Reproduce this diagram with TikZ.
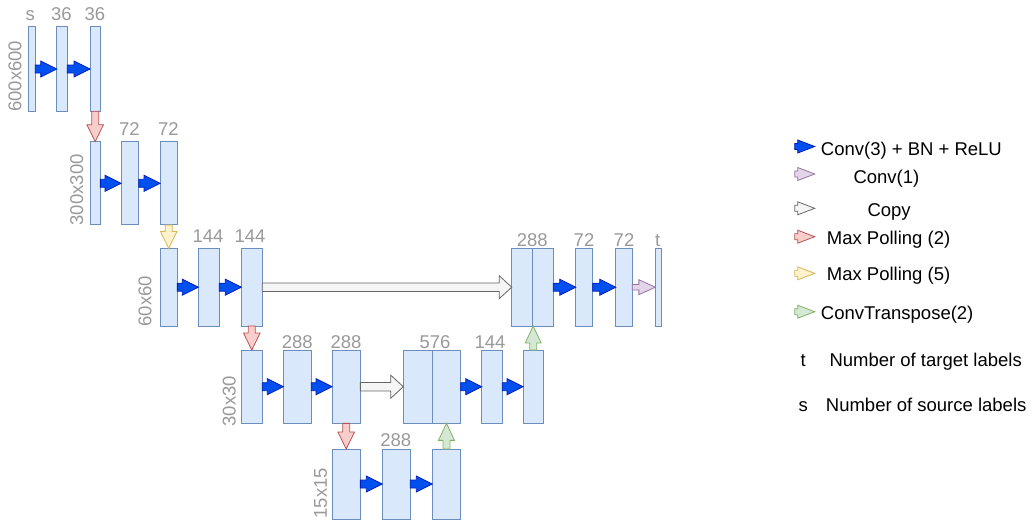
\documentclass[tikz,border=0pt]{standalone}
\usepackage{fontspec}
\setmainfont{Liberation Sans}
\usetikzlibrary{calc}
\definecolor{boxfill}{HTML}{DAE8FC}
\definecolor{boxdraw}{HTML}{6C8EBF}
\definecolor{bluefill}{HTML}{0050EF}
\definecolor{bluedraw}{HTML}{001DBC}
\definecolor{redfill}{HTML}{F8CECC}
\definecolor{reddraw}{HTML}{B85450}
\definecolor{yelfill}{HTML}{FFF2CC}
\definecolor{yeldraw}{HTML}{D6B656}
\definecolor{grnfill}{HTML}{D5E8D4}
\definecolor{grndraw}{HTML}{82B366}
\definecolor{purfill}{HTML}{E1D5E7}
\definecolor{purdraw}{HTML}{9673A6}
\definecolor{cpyfill}{HTML}{F5F5F5}
\definecolor{cpydraw}{HTML}{666666}
\definecolor{labgray}{HTML}{999999}
\newcommand\lblfont{\fontsize{18.5}{22}\selectfont}
\begin{document}
\begin{tikzpicture}[x=1pt,y=-1pt,
  layer/.style={draw=boxdraw, fill=boxfill, line width=1pt, inner sep=0pt, outer sep=0pt, rectangle},
  lab/.style={text=labgray, inner sep=0pt, anchor=base, font=\lblfont},
  dimlab/.style={text=labgray, inner sep=0pt, anchor=west, rotate=90, font=\lblfont},
  leg/.style={inner sep=0pt, anchor=base west, font=\lblfont},
  barrow/.style n args={3}{to path={
    ($(\tikztostart)!#1!90:(\tikztotarget)$) --
    ($(\tikztotarget)!#3!(\tikztostart)!#1!90:(\tikztotarget)$) --
    ($(\tikztotarget)!#3!(\tikztostart)!#2!90:(\tikztotarget)$) --
    (\tikztotarget) --
    ($(\tikztotarget)!#3!(\tikztostart)!#2!-90:(\tikztotarget)$) --
    ($(\tikztotarget)!#3!(\tikztostart)!#1!-90:(\tikztotarget)$) --
    ($(\tikztostart)!#1!-90:(\tikztotarget)$) -- cycle}},
  conv/.style={barrow={4pt}{8pt}{16pt}, fill=bluefill, draw=bluedraw, line width=0.8pt},
  pool/.style={barrow={3.5pt}{8.3pt}{17pt}, fill=redfill, draw=reddraw, line width=0.8pt},
  poolfive/.style={barrow={3.5pt}{8.3pt}{17pt}, fill=yelfill, draw=yeldraw, line width=0.8pt},
  upconv/.style={barrow={3.5pt}{8pt}{17pt}, fill=grnfill, draw=grndraw, line width=0.8pt},
  convone/.style={barrow={2.8pt}{7.5pt}{16.5pt}, fill=purfill, draw=purdraw, line width=0.8pt},
  copyarr/.style={barrow={4.2pt}{11.5pt}{12.5pt}, fill=cpyfill, draw=cpydraw, line width=0.8pt},
  legarr/.style={barrow={3pt}{6.5pt}{17pt}, line width=0.8pt}
]
\useasboundingbox (0,0) rectangle (1033,523);

% row 1
\node[layer, minimum width=7pt,    minimum height=84.6pt] (r1a) at (31.8,69) {};
\node[layer, minimum width=10.6pt, minimum height=84.6pt] (r1b) at (62,69) {};
\node[layer, minimum width=10.3pt, minimum height=84.6pt] (r1c) at (95.2,69) {};
% row 2
\node[layer, minimum width=10.3pt, minimum height=83.3pt] (r2a) at (95.2,183.3) {};
\node[layer, minimum width=17.7pt, minimum height=83.3pt] (r2b) at (129.9,183.3) {};
\node[layer, minimum width=17.3pt, minimum height=83.3pt] (r2c) at (168.7,183.3) {};
% row 3
\node[layer, minimum width=17.3pt, minimum height=77.7pt] (r3a) at (168.7,287.2) {};
\node[layer, minimum width=21pt,   minimum height=77.7pt] (r3b) at (208.8,287.2) {};
\node[layer, minimum width=21pt,   minimum height=77.7pt] (r3c) at (251.8,287.2) {};
\node[layer, minimum width=20.6pt, minimum height=77.7pt] (r3d) at (522,287.2) {};
\node[layer, minimum width=21pt,   minimum height=77.7pt] (r3e) at (542.8,287.2) {};
\node[layer, minimum width=17pt,   minimum height=77.7pt] (r3f) at (584.2,287.2) {};
\node[layer, minimum width=16.6pt, minimum height=77.7pt] (r3g) at (624,287.2) {};
\node[layer, minimum width=5.7pt,  minimum height=77.7pt] (r3h) at (658.2,287.2) {};
% row 4
\node[layer, minimum width=20.6pt, minimum height=73.3pt] (r4a) at (252,386.7) {};
\node[layer, minimum width=28pt,   minimum height=73.3pt] (r4b) at (297.3,386.7) {};
\node[layer, minimum width=28.3pt, minimum height=73.3pt] (r4c) at (346.2,386.7) {};
\node[layer, minimum width=29pt,   minimum height=73.3pt] (r4d) at (417.8,386.7) {};
\node[layer, minimum width=28.4pt, minimum height=73.3pt] (r4e) at (446.5,386.7) {};
\node[layer, minimum width=20.6pt, minimum height=73.3pt] (r4f) at (492,386.7) {};
\node[layer, minimum width=20.3pt, minimum height=73.3pt] (r4g) at (533.2,386.7) {};
% row 5
\node[layer, minimum width=28.3pt, minimum height=70pt] (r5a) at (346.2,484) {};
\node[layer, minimum width=28pt,   minimum height=70pt] (r5b) at (396.3,484) {};
\node[layer, minimum width=28.4pt, minimum height=70pt] (r5c) at (446.5,484) {};

% channel labels
\node[lab] (t1a) at (30.2,20.7) {s};
\node[lab] (t1b) at (61.5,20.7) {36};
\node[lab] (t1c) at (95,20.7) {36};
\node[lab] (t2b) at (129.5,135) {72};
\node[lab] (t2c) at (168.5,135) {72};
\node[lab] (t3b) at (208,242) {144};
\node[lab] (t3c) at (250,242) {144};
\node[lab] (t3d) at (532.3,246.5) {288};
\node[lab] (t3f) at (584,246.5) {72};
\node[lab] (t3g) at (624,246.5) {72};
\node[lab] (t3h) at (657.7,246.5) {t};
\node[lab] (t4b) at (297.3,348) {288};
\node[lab] (t4c) at (346,348) {288};
\node[lab] (t4d) at (435,348) {576};
\node[lab] (t4f) at (490,348) {144};
\node[lab] (t5b) at (395.7,446) {288};

% size labels
\node[dimlab] (d1) at (15,112) {600x600};
\node[dimlab] (d2) at (76.7,225.5) {300x300};
\node[dimlab] (d3) at (145,326.7) {60x60};
\node[dimlab] (d4) at (229.3,426.5) {30x30};
\node[dimlab] (d5) at (320.7,518.5) {15x15};

% conv arrows
\draw[conv] (r1a.east) to (r1b.west);
\draw[conv] (r1b.east) to (r1c.west);
\draw[conv] (r2a.east) to (r2b.west);
\draw[conv] (r2b.east) to (r2c.west);
\draw[conv] (r3a.east) to (r3b.west);
\draw[conv] (r3b.east) to (r3c.west);
\draw[conv] (r3e.east) to (r3f.west);
\draw[conv] (r3f.east) to (r3g.west);
\draw[conv] (r4a.east) to (r4b.west);
\draw[conv] (r4b.east) to (r4c.west);
\draw[conv] (r4e.east) to (r4f.west);
\draw[conv] (r4f.east) to (r4g.west);
\draw[conv] (r5a.east) to (r5b.west);
\draw[conv] (r5b.east) to (r5c.west);
% 1x1 conv
\draw[convone] (r3g.east) to (r3h.west);
% pooling
\draw[pool] (r1c.south) to (r2a.north);
\draw[poolfive] (r2c.south) to (r3a.north);
\draw[pool] (r3c.south) to (r3c.south |- r4a.north);
\draw[pool] (r4c.south) to (r5a.north);
% copies
\draw[copyarr] (r3c.east) to (r3d.west);
\draw[copyarr] (r4c.east) to (r4d.west);
% up-convolutions
\draw[upconv] (r4g.north) to (r4g.north |- r3d.south);
\draw[upconv] (r5c.north) to (r4e.south);

% legend
\coordinate (l1s) at (794.7,146.5); \coordinate (l1e) at (814.7,146.5);
\coordinate (l2s) at (794.7,174);   \coordinate (l2e) at (814.7,174);
\coordinate (l3s) at (794.7,208.3); \coordinate (l3e) at (814.7,208.3);
\coordinate (l4s) at (794.7,236.7); \coordinate (l4e) at (814.7,236.7);
\coordinate (l5s) at (794.7,273.3); \coordinate (l5e) at (814.7,273.3);
\coordinate (l6s) at (794.7,311.7); \coordinate (l6e) at (814.7,311.7);
\draw[legarr, fill=bluefill, draw=bluedraw] (l1s) to (l1e);
\draw[legarr, fill=purfill, draw=purdraw] (l2s) to (l2e);
\draw[legarr, fill=cpyfill, draw=cpydraw] (l3s) to (l3e);
\draw[legarr, fill=redfill, draw=reddraw] (l4s) to (l4e);
\draw[legarr, fill=yelfill, draw=yeldraw] (l5s) to (l5e);
\draw[legarr, fill=grnfill, draw=grndraw] (l6s) to (l6e);
\node[leg] (g1) at (820.7,155) {Conv(3) + BN + ReLU};
\node[leg] (g2) at (853.3,183.3) {Conv(1)};
\node[leg] (g3) at (867.3,216) {Copy};
\node[leg] (g4) at (826.7,244.3) {Max Polling (2)};
\node[leg] (g5) at (826.7,280.7) {Max Polling (5)};
\node[leg] (g6) at (820.7,319) {ConvTranspose(2)};
\node[lab, text=black] (g7) at (803.3,366.7) {t};
\node[leg] (g8) at (829.3,366.7) {Number of target labels};
\node[lab, text=black] (g9) at (803.3,411.7) {s};
\node[leg] (g10) at (825.7,411.7) {Number of source labels};
\end{tikzpicture}
\end{document}
